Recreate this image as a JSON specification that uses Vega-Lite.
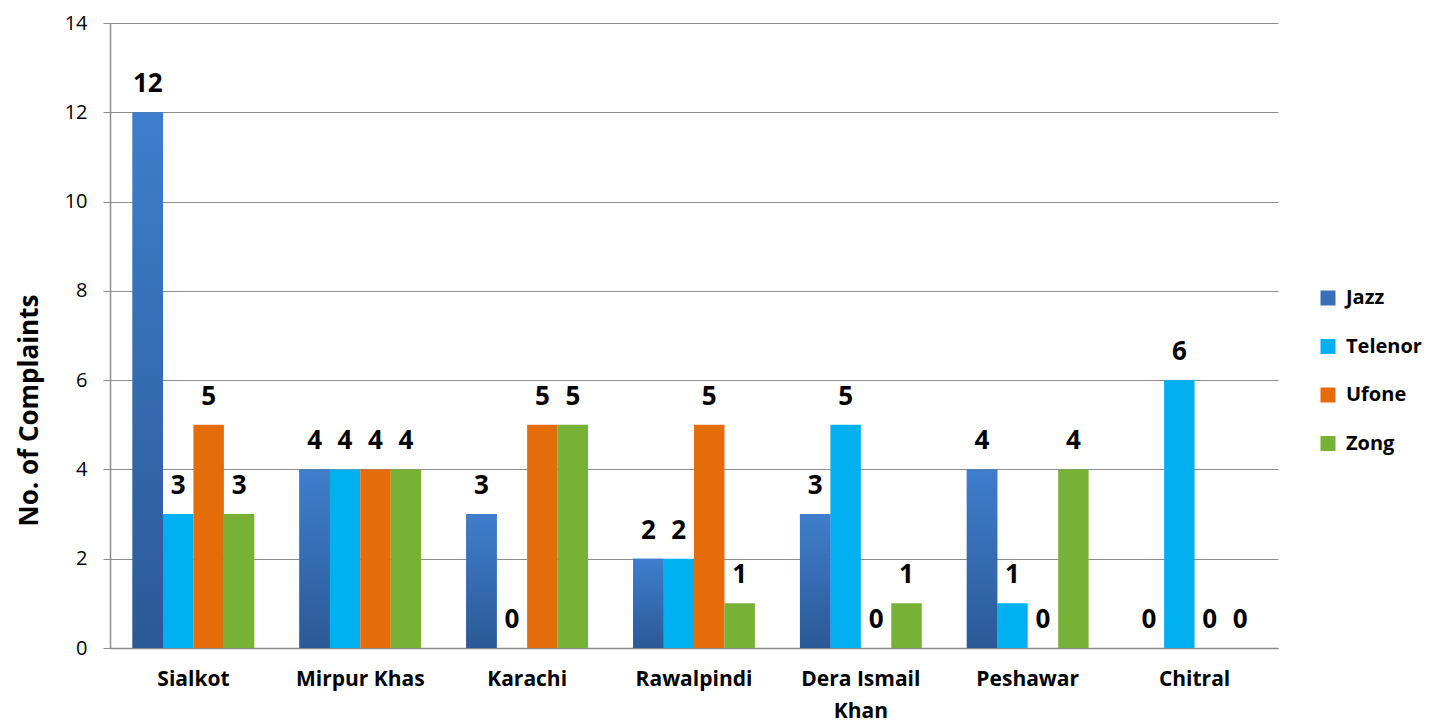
{
  "$schema": "https://vega.github.io/schema/vega-lite/v6.json",
  "autosize": {"type": "none"},
  "padding": {"left": 110, "top": 23, "right": 167, "bottom": 76},
  "width": 1168,
  "height": 625,
  "background": "white",
  "config": {
    "font": "Open Sans",
    "view": {"stroke": null}
  },
  "data": {
    "values": [
      {"city": "Sialkot", "operator": "Jazz", "complaints": 12},
      {"city": "Sialkot", "operator": "Telenor", "complaints": 3},
      {"city": "Sialkot", "operator": "Ufone", "complaints": 5},
      {"city": "Sialkot", "operator": "Zong", "complaints": 3},
      {"city": "Mirpur Khas", "operator": "Jazz", "complaints": 4},
      {"city": "Mirpur Khas", "operator": "Telenor", "complaints": 4},
      {"city": "Mirpur Khas", "operator": "Ufone", "complaints": 4},
      {"city": "Mirpur Khas", "operator": "Zong", "complaints": 4},
      {"city": "Karachi", "operator": "Jazz", "complaints": 3},
      {"city": "Karachi", "operator": "Telenor", "complaints": 0},
      {"city": "Karachi", "operator": "Ufone", "complaints": 5},
      {"city": "Karachi", "operator": "Zong", "complaints": 5},
      {"city": "Rawalpindi", "operator": "Jazz", "complaints": 2},
      {"city": "Rawalpindi", "operator": "Telenor", "complaints": 2},
      {"city": "Rawalpindi", "operator": "Ufone", "complaints": 5},
      {"city": "Rawalpindi", "operator": "Zong", "complaints": 1},
      {"city": "Dera Ismail Khan", "operator": "Jazz", "complaints": 3},
      {"city": "Dera Ismail Khan", "operator": "Telenor", "complaints": 5},
      {"city": "Dera Ismail Khan", "operator": "Ufone", "complaints": 0},
      {"city": "Dera Ismail Khan", "operator": "Zong", "complaints": 1},
      {"city": "Peshawar", "operator": "Jazz", "complaints": 4},
      {"city": "Peshawar", "operator": "Telenor", "complaints": 1},
      {"city": "Peshawar", "operator": "Ufone", "complaints": 0},
      {"city": "Peshawar", "operator": "Zong", "complaints": 4},
      {"city": "Chitral", "operator": "Jazz", "complaints": 0},
      {"city": "Chitral", "operator": "Telenor", "complaints": 6},
      {"city": "Chitral", "operator": "Ufone", "complaints": 0},
      {"city": "Chitral", "operator": "Zong", "complaints": 0}
    ]
  },
  "encoding": {
    "x": {
      "field": "city",
      "type": "nominal",
      "sort": ["Sialkot", "Mirpur Khas", "Karachi", "Rawalpindi", "Dera Ismail Khan", "Peshawar", "Chitral"],
      "scale": {"paddingInner": 0.27, "paddingOuter": 0.135},
      "axis": {
        "title": null,
        "labelAngle": 0,
        "labelFont": "Open Sans",
        "labelFontSize": 21,
        "labelFontWeight": "bold",
        "labelColor": "black",
        "labelPadding": 20,
        "labelExpr": "datum.value == 'Dera Ismail Khan' ? ['Dera Ismail', 'Khan'] : datum.value",
        "labelLineHeight": 32,
        "ticks": false,
        "domainColor": "#8c8c8c",
        "domainWidth": 1.5
      }
    },
    "xOffset": {
      "field": "operator",
      "type": "nominal",
      "sort": ["Jazz", "Telenor", "Ufone", "Zong"],
      "scale": {"paddingInner": 0, "paddingOuter": 0}
    },
    "y": {
      "field": "complaints",
      "type": "quantitative",
      "scale": {"domain": [0, 14], "nice": false},
      "axis": {
        "values": [0, 2, 4, 6, 8, 10, 12, 14],
        "title": "No. of Complaints",
        "titleFont": "Open Sans",
        "titleFontSize": 26,
        "titleFontWeight": "bold",
        "titleColor": "black",
        "titlePadding": 22,
        "titleY": 387,
        "labelFont": "Open Sans",
        "labelFontSize": 20,
        "labelColor": "black",
        "labelPadding": 16,
        "tickSize": 7,
        "tickColor": "#8c8c8c",
        "domainColor": "#8c8c8c",
        "domainWidth": 1.5,
        "gridColor": "#8c8c8c",
        "gridWidth": 1.2,
        "grid": true
      }
    }
  },
  "layer": [
    {
      "mark": {"type": "bar"},
      "encoding": {
        "color": {
          "field": "operator",
          "type": "nominal",
          "sort": ["Jazz", "Telenor", "Ufone", "Zong"],
          "scale": {
            "domain": ["Jazz", "Telenor", "Ufone", "Zong"],
            "range": ["#3a70b8", "#00b0f0", "#e46c0a", "#77b236"]
          },
          "legend": {
            "title": null,
            "orient": "none",
            "legendX": 1208,
            "legendY": 265,
            "symbolType": "square",
            "symbolSize": 225,
            "symbolStrokeWidth": 0,
            "labelFont": "Open Sans",
            "labelFontSize": 20,
            "labelFontWeight": "bold",
            "labelColor": "black",
            "labelOffset": 8,
            "rowPadding": 28.5
          }
        }
      }
    },
    {
      "transform": [{"filter": "datum.operator == 'Jazz'"}],
      "mark": {
        "type": "bar",
        "fill": {
          "gradient": "linear",
          "x1": 0, "y1": 0, "x2": 0, "y2": 1,
          "stops": [
            {"offset": 0, "color": "#3f7ecc"},
            {"offset": 1, "color": "#2b5997"}
          ]
        }
      },
      "encoding": {}
    },
    {
      "mark": {
        "type": "text",
        "baseline": "alphabetic",
        "dy": -20,
        "font": "Open Sans",
        "fontSize": 26,
        "fontWeight": "bold",
        "color": "black"
      },
      "encoding": {
        "text": {"field": "complaints", "type": "quantitative"}
      }
    }
  ]
}
